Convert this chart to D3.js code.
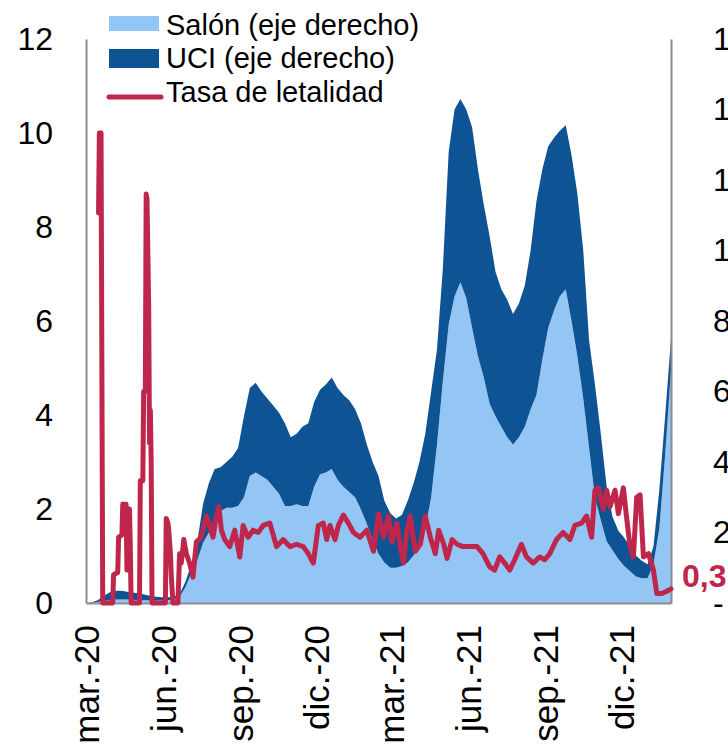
<!DOCTYPE html>
<html>
<head>
<meta charset="utf-8">
<script src="https://cdn.jsdelivr.net/npm/d3@7"></script>
<style>
  body { margin: 0; background: #fff; }
  svg { font-family: Arial, 'Liberation Sans', sans-serif; }
</style>
</head>
<body>
<svg width="728" height="755"></svg>
<script>
// weekly series start on this day, one value every 7 days
const inicio = new Date(2020, 2, 1)
const paso = 7

// hospitalizados en salon (miles, eje derecho)
const salon = [
  0, 0.01, 0.03, 0.06, 0.08, 0.1, 0.1, 0.1, 0.09, 0.08,
  0.08, 0.07, 0.07, 0.07, 0.08, 0.1, 0.18, 0.45, 0.85, 1.2,
  1.7, 2.0, 2.35, 2.6, 2.7, 2.7, 2.75, 3.0, 3.6, 3.7,
  3.6, 3.5, 3.3, 3.1, 2.75, 2.75, 2.8, 2.75, 2.75, 3.3,
  3.65, 3.7, 3.8, 3.5, 3.3, 3.15, 3.0, 2.65, 2.25, 1.8,
  1.4, 1.15, 1.0, 1.0, 1.05, 1.15, 1.35, 1.6, 2.1, 3.0,
  4.5, 6.3, 7.9, 8.7, 9.1, 8.65, 7.8, 7.0, 6.4, 5.65,
  5.3, 5.0, 4.7, 4.5, 4.7, 5.0, 5.5, 5.9, 6.9, 7.8,
  8.3, 8.7, 8.9, 8.0, 7.0, 5.8, 4.4, 3.0, 2.35, 1.75,
  1.5, 1.25, 1.05, 0.9, 0.75, 0.7, 0.7, 1.1, 2.1, 4.2,
  6.6
]

// hospitalizados en UCI (miles, eje derecho), stacked on top of salon
const uci = [
  0, 0.01, 0.05, 0.14, 0.22, 0.25, 0.25, 0.22, 0.21, 0.19,
  0.16, 0.13, 0.11, 0.09, 0.08, 0.08, 0.07, 0.15, 0.25, 0.5,
  1.1, 1.4, 1.45, 1.25, 1.3, 1.45, 1.65, 2.3, 2.5, 2.55,
  2.4, 2.3, 2.3, 2.3, 2.35, 1.95, 2.0, 2.25, 2.35, 2.4,
  2.4, 2.5, 2.6, 2.6, 2.6, 2.6, 2.5, 2.45, 2.25, 2.2,
  2.2, 1.75, 1.55, 1.4, 1.45, 1.75, 2.05, 2.4, 2.7, 3.0,
  2.7, 3.2, 4.9, 5.3, 5.2, 5.35, 5.7, 5.3, 4.9, 4.75,
  4.1, 3.9, 3.9, 3.7, 3.8, 4.0, 4.5, 5.5, 5.4, 5.15,
  4.9, 4.7, 4.65, 4.7, 4.6, 4.2, 3.05, 3.2, 2.45, 1.55,
  0.95, 0.8, 0.8, 0.7, 0.6, 0.5, 0.4, 0.5, 1.1, 1.1,
  0.9
]

// tasa de letalidad: days since inicio and value (eje izquierdo)
const tasaDias = [
  15, 16, 18, 20, 32, 33, 38, 39, 43, 44, 48, 49, 51, 52, 53, 54,
  64, 65, 68, 69, 71, 72, 73, 75, 76, 77, 78, 79, 95, 96, 98, 99,
  101, 102, 104, 110, 112, 114, 117, 120, 124, 128, 132, 138, 144, 148,
  152, 156, 159, 162, 166, 172, 178, 184, 188, 194, 200, 206, 212, 220,
  228, 236, 244, 252, 260, 266, 272, 278, 284, 288, 292, 298, 302, 308,
  314, 320, 328, 336, 344, 350, 356, 362, 366, 372, 376, 380, 384, 388,
  394, 400, 406, 412, 418, 422, 428, 432, 438, 444, 451, 459, 468, 475,
  483, 489, 495, 501, 507, 513, 521, 527, 535, 543, 549, 555, 563, 571,
  579, 585, 593, 599, 605, 609, 613, 619, 623, 627, 633, 637, 643, 647,
  651, 655, 659, 663, 667, 673, 679, 683, 689, 695, 700
]
const tasa = [
  8.3, 10.0, 10.0, 0, 0, 0.6, 0.65, 1.4, 1.45, 2.1, 2.1, 0.7, 1.9, 2.0, 1.2, 0,
  0, 2.6, 2.6, 4.5, 4.5, 8.7, 8.6, 6.3, 3.4, 4.1, 3.0, 0, 0, 1.8, 1.7, 1.55,
  1.05, 0.6, 0, 0, 1.05, 0.85, 1.35, 1.05, 0.85, 0.55, 1.3, 1.4, 1.85, 1.65,
  1.4, 1.85, 2.05, 1.55, 1.35, 1.2, 1.55, 0.98, 1.65, 1.4, 1.55, 1.5, 1.65, 1.7,
  1.2, 1.35, 1.2, 1.25, 1.2, 1.05, 0.85, 1.65, 1.7, 1.35, 1.65, 1.35, 1.65, 1.87,
  1.7, 1.5, 1.4, 1.55, 1.1, 1.9, 1.4, 1.85, 1.3, 1.7, 1.2, 0.85, 1.55, 1.85,
  1.1, 1.25, 1.85, 1.4, 1.05, 1.55, 1.25, 0.95, 1.35, 1.25, 1.2, 1.2, 1.2, 1.05,
  0.77, 0.7, 0.98, 0.85, 0.7, 0.92, 1.25, 0.98, 0.85, 0.98, 0.92, 1.05, 1.35, 1.5,
  1.35, 1.65, 1.7, 1.85, 1.4, 2.4, 2.45, 2.0, 2.4, 2.05, 2.4, 1.9, 2.45, 1.8,
  1.2, 0.98, 2.25, 2.3, 0.98, 1.05, 0.7, 0.2, 0.2, 0.25, 0.3
]

// x axis ticks and labels
const mesesTicks = ['2020-03-01', '2020-06-01', '2020-09-01', '2020-12-01',
  '2021-03-01', '2021-06-01', '2021-09-01', '2021-12-01']
const mesesLabels = ['mar.-20', 'jun.-20', 'sep.-20', 'dic.-20',
  'mar.-21', 'jun.-21', 'sep.-21', 'dic.-21']
const ticksIzq = [0, 2, 4, 6, 8, 10, 12]
const ticksDer = [0, 2, 4, 6, 8, 10, 12, 14, 16]

const series = ['Salón (eje derecho)', 'UCI (eje derecho)', 'Tasa de letalidad']
const colores = ['#93C6F4', '#0E5394', '#BF264C']

const svg = d3.select('svg')
const width = +svg.attr('width')
const height = +svg.attr('height')
const margin = { top: 39, right: 57, bottom: 152, left: 86 }
const innerWidth = width - margin.left - margin.right
const innerHeight = height - margin.top - margin.bottom

const dia = n => d3.timeDay.offset(inicio, n)
const parse = d3.timeParse('%Y-%m-%d')

const x = d3.scaleTime()
  .domain([inicio, dia(700)])
  .range([0, innerWidth])
const yIzq = d3.scaleLinear().domain([0, 12]).range([innerHeight, 0])
const yDer = d3.scaleLinear().domain([0, 16]).range([innerHeight, 0])

// rows for the stacked areas
const filas = salon.map((v, i) => ({ fecha: dia(i * paso), salon: v, uci: uci[i] }))
const apilado = d3.stack().keys(['salon', 'uci'])(filas)

const g = svg.append('g')
  .attr('transform', `translate(${margin.left}, ${margin.top})`)

const area = d3.area()
  .x(d => x(d.data.fecha))
  .y0(d => yDer(d[0]))
  .y1(d => yDer(d[1]))

g.selectAll('.area')
  .data(apilado)
  .enter().append('path')
    .attr('class', 'area')
    .attr('d', area)
    .attr('fill', (d, i) => colores[i])

// axes, no tick marks, grey lines
const fmtDer = d3.formatLocale({ decimal: ',', thousands: '.', grouping: [3], currency: ['$', ''] }).format(',')

g.append('g')
  .call(d3.axisLeft(yIzq).tickValues(ticksIzq).tickSize(0).tickPadding(33))
  .call(estiloEje, 32)

g.append('g')
  .attr('transform', `translate(${innerWidth}, 0)`)
  .call(d3.axisRight(yDer).tickValues(ticksDer).tickSize(0).tickPadding(42)
    .tickFormat(d => d === 0 ? '-' : fmtDer(d * 1000)))
  .call(estiloEje, 32)

g.append('g')
  .attr('transform', `translate(0, ${innerHeight})`)
  .call(d3.axisBottom(x).tickValues(mesesTicks.map(parse)).tickSize(0)
    .tickFormat((d, i) => mesesLabels[i]))
  .call(estiloEje, 35)
  .selectAll('text')
    .attr('transform', 'rotate(-90)')
    .attr('text-anchor', 'end')
    .attr('x', -22)
    .attr('y', 0)
    .attr('dy', '0.35em')

function estiloEje(sel, size) {
  sel.select('.domain').attr('stroke', '#8c8c8c').attr('stroke-width', 2)
  sel.selectAll('text')
    .attr('font-size', size + 'px')
    .attr('font-family', 'Arial, "Liberation Sans", sans-serif')
    .attr('fill', '#000')
}

// red line on the left axis
const puntos = tasaDias.map((d, i) => ({ fecha: dia(d), valor: tasa[i] }))
g.append('path')
  .datum(puntos)
  .attr('fill', 'none')
  .attr('stroke', colores[2])
  .attr('stroke-width', 5)
  .attr('stroke-linejoin', 'round')
  .attr('stroke-linecap', 'round')
  .attr('d', d3.line().x(d => x(d.fecha)).y(d => yIzq(d.valor)))

// last value label
const ultimo = puntos[puntos.length - 1]
g.append('text')
  .attr('x', x(ultimo.fecha) + 11)
  .attr('y', yIzq(ultimo.valor) - 2)
  .attr('font-size', '32px')
  .attr('font-weight', 'bold')
  .attr('fill', colores[2])
  .text(d3.format('.1f')(ultimo.valor).replace('.', ','))

// legend
const legend = svg.selectAll('.legend')
  .data(series)
  .enter().append('g')
    .attr('class', 'legend')

legend.each(function(d, i) {
  const el = d3.select(this)
  if (i === 0) {
    el.append('rect').attr('x', 109).attr('y', 16).attr('width', 50).attr('height', 15).attr('fill', colores[0])
  } else if (i === 1) {
    el.append('rect').attr('x', 109).attr('y', 49).attr('width', 50).attr('height', 19).attr('fill', colores[1])
  } else {
    el.append('line').attr('x1', 109).attr('x2', 161).attr('y1', 97).attr('y2', 97)
      .attr('stroke', colores[2]).attr('stroke-width', 5).attr('stroke-linecap', 'round')
  }
})

legend.append('text')
  .attr('x', 166)
  .attr('y', (d, i) => [35, 68, 102][i])
  .attr('font-size', '29px')
  .attr('fill', '#000')
  .text(d => d)
</script>
</body>
</html>
